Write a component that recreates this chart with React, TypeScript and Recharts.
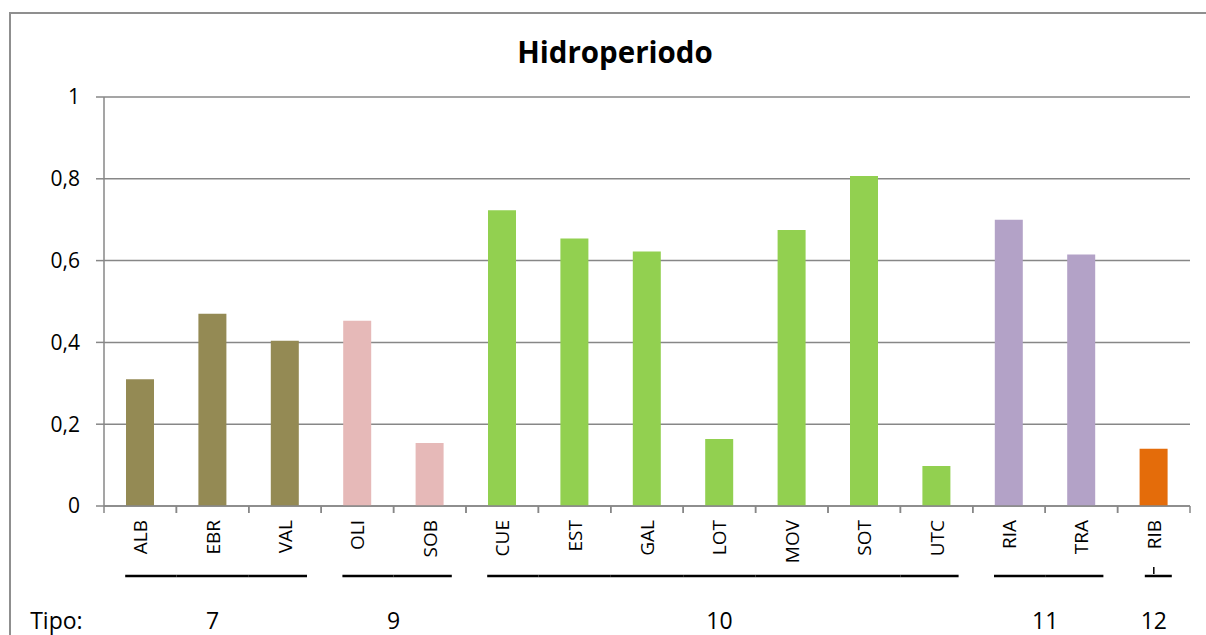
import React from 'react';
import { BarChart, Bar, XAxis, YAxis, CartesianGrid, Cell } from 'recharts';

const categories = ['ALB', 'EBR', 'VAL', 'OLI', 'SOB', 'CUE', 'EST', 'GAL', 'LOT', 'MOV', 'SOT', 'UTC', 'RIA', 'TRA', 'RIB'];
const values = [0.31, 0.47, 0.404, 0.453, 0.154, 0.723, 0.654, 0.622, 0.164, 0.675, 0.807, 0.098, 0.7, 0.615, 0.14];
const tipos = ['7', '7', '7', '9', '9', '10', '10', '10', '10', '10', '10', '10', '11', '11', '12'];
const tipoColors: Record<string, string> = {
  '7': '#948A54',
  '9': '#E6B9B8',
  '10': '#92D050',
  '11': '#B3A2C7',
  '12': '#E46C0A',
};
const yTicks = [0, 0.2, 0.4, 0.6, 0.8, 1];
const title = 'Hidroperiodo';
const tipoLabel = 'Tipo:';

const data = categories.map((c, i) => ({ name: c, value: values[i], tipo: tipos[i] }));

const FONT = '"Open Sans", Lato, sans-serif';
const GRID = '#878787';

const CategoryTick = (props: any) => {
  const { x, y, payload, index } = props;
  const half = payload && payload.offset ? payload.offset : 36.2;
  const i = index;
  const t = tipos[i];
  const first = i === 0 || tipos[i - 1] !== t;
  const last = i === tipos.length - 1 || tipos[i + 1] !== t;
  const n = tipos.filter((v) => v === t).length;
  const x1 = first ? x - 15 : x - half;
  const x2 = last ? x + 22 : x + half;
  const lineY = y + 70;
  return (
    <g>
      <line x1={x - half} x2={x - half} y1={y} y2={y + 7} stroke={GRID} strokeWidth={1.5} />
      <line x1={x + half} x2={x + half} y1={y} y2={y + 7} stroke={GRID} strokeWidth={1.5} />
      <text
        x={x}
        y={y + 14}
        transform={`rotate(-90, ${x}, ${y + 14})`}
        textAnchor="end"
        dominantBaseline="central"
        fontSize={19}
        fontFamily={FONT}
        fill="#000"
      >
        {payload.value}
      </text>
      <line x1={first && last ? x - 9 : x1} x2={first && last ? x + 18 : x2} y1={lineY} y2={lineY} stroke="#000" strokeWidth={2.5} />
      {first && last ? <line x1={x} x2={x} y1={lineY - 9} y2={lineY - 2} stroke="#000" strokeWidth={1.5} /> : null}
      {first ? (
        <text
          x={x + (n - 1) * half}
          y={y + 114}
          textAnchor="middle"
          dominantBaseline="central"
          fontSize={23}
          fontFamily={FONT}
          fill="#000"
        >
          {t}
        </text>
      ) : null}
      {i === 0 ? (
        <text x={x - 110} y={y + 114} textAnchor="start" dominantBaseline="central" fontSize={23} fontFamily={FONT} fill="#000">
          {tipoLabel}
        </text>
      ) : null}
    </g>
  );
};

export default function App() {
  return (
    <div style={{ position: 'absolute', left: 0, top: 0, width: 1206, height: 635, background: '#fff', overflow: 'hidden' }}>
      <div
        style={{
          position: 'absolute',
          left: 9,
          top: 12,
          width: 1400,
          height: 800,
          borderLeft: '2px solid #8f8f8f',
          borderTop: '2px solid #8f8f8f',
        }}
      />
      <svg style={{ position: 'absolute', left: 0, top: 0 }} width={1206} height={90}>
        <text x={615} y={63} textAnchor="middle" fontFamily={FONT} fontWeight={700} fontSize={29.5} fill="#000">
          {title}
        </text>
      </svg>
      <div style={{ position: 'absolute', left: 0, top: 0 }}>
        <BarChart width={1206} height={635} data={data} margin={{ top: 97, right: 16, left: 0, bottom: 0 }}>
          <CartesianGrid vertical={false} stroke={GRID} strokeWidth={1.5} />
          <XAxis
            dataKey="name"
            height={129}
            interval={0}
            tickSize={0}
            tickMargin={0}
            tickLine={false}
            axisLine={{ stroke: GRID, strokeWidth: 1.5 }}
            tick={<CategoryTick />}
          />
          <YAxis
            width={104}
            domain={[0, 1]}
            ticks={yTicks}
            tickSize={8}
            tickMargin={16}
            axisLine={{ stroke: GRID, strokeWidth: 1.5 }}
            tickLine={{ stroke: GRID, strokeWidth: 1.5 }}
            tick={{ fontSize: 21, fontFamily: FONT, fill: '#000' }}
            tickFormatter={(v: number) => String(v).replace('.', ',')}
          />
          <YAxis
            yAxisId="right"
            orientation="right"
            width={0}
            domain={[0, 1]}
            tick={false}
            tickLine={false}
            axisLine={{ stroke: GRID, strokeWidth: 1.5 }}
          />
          <Bar dataKey="value" barSize={28} isAnimationActive={false}>
            {data.map((d, i) => (
              <Cell key={i} fill={tipoColors[d.tipo]} />
            ))}
          </Bar>
        </BarChart>
      </div>
    </div>
  );
}
